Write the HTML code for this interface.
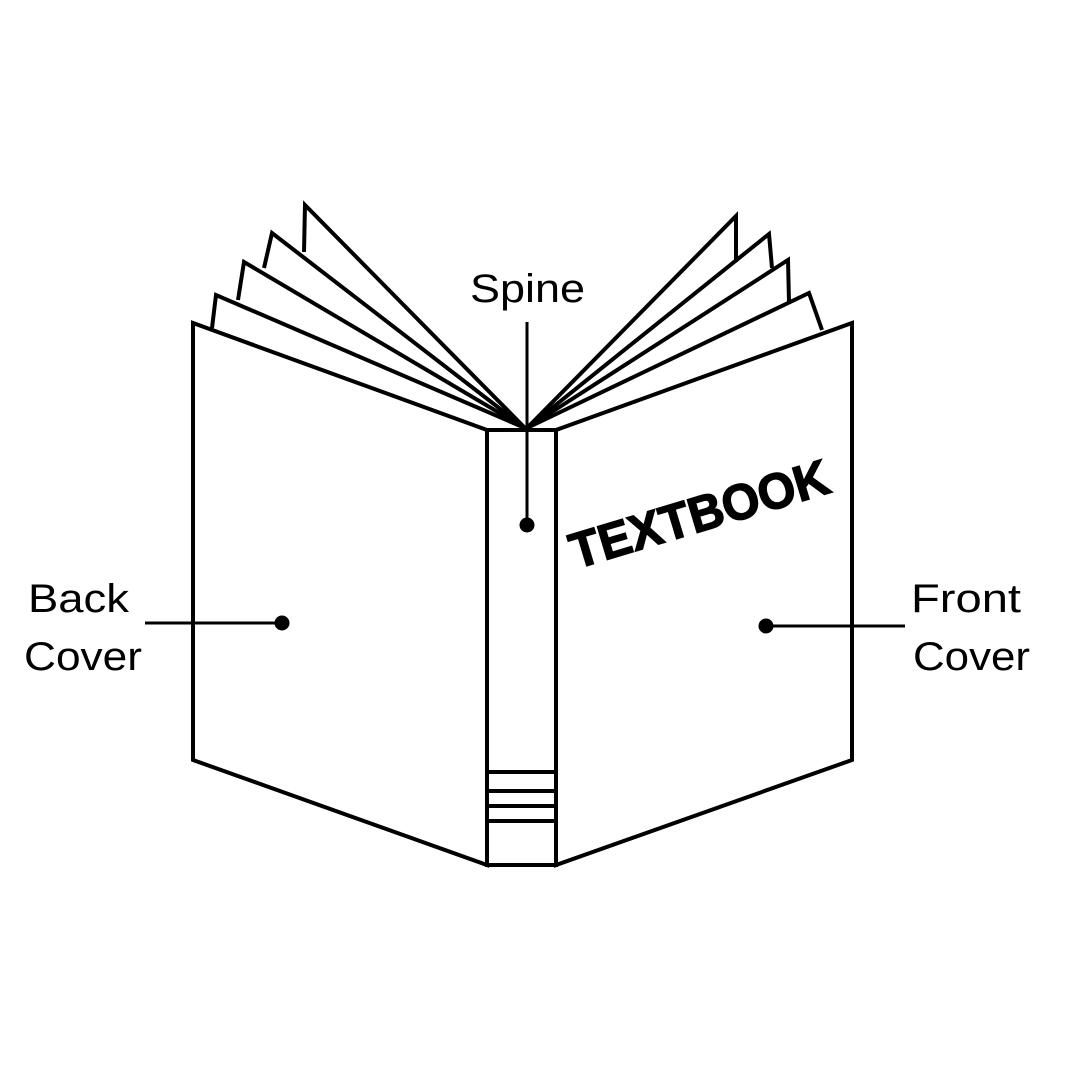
<!DOCTYPE html>
<html><head><style>html,body{margin:0;padding:0;background:#fff}</style></head>
<body>
<svg width="1080" height="1080" viewBox="0 0 1080 1080" xmlns="http://www.w3.org/2000/svg">
<rect width="1080" height="1080" fill="#fff"/>
<g fill="none" stroke="#000" stroke-width="4" stroke-linejoin="miter">
<path d="M212,328 L216,295 L525,428"/>
<path d="M238,300 L244,262 L525,428"/>
<path d="M264,268 L272,233 L525,428"/>
<path d="M304,252 L305,205 L525,428"/>
<path d="M822,330 L809,293 L527,428"/>
<path d="M789,302 L788,260 L527,428"/>
<path d="M772,268 L769,234 L527,428"/>
<path d="M736,262 L736,216 L527,428"/>
<path d="M487,430 L193,323 L193,760 L487,865 Z"/>
<path d="M556,430 L852,323 L852,760 L556,865 Z"/>
<rect x="487" y="430" width="69" height="435"/>
<line x1="487" y1="772" x2="556" y2="772"/>
<line x1="487" y1="791" x2="556" y2="791"/>
<line x1="487" y1="806" x2="556" y2="806"/>
<line x1="487" y1="821" x2="556" y2="821"/>
<line x1="527" y1="322" x2="527" y2="525" stroke-width="3"/>
<line x1="145" y1="623" x2="282" y2="623" stroke-width="3"/>
<line x1="766" y1="626" x2="905" y2="626" stroke-width="3"/>
</g>
<circle cx="527" cy="525" r="7.5" fill="#000"/>
<circle cx="282" cy="623" r="7.5" fill="#000"/>
<circle cx="766" cy="626" r="7.5" fill="#000"/>
<g font-family="Liberation Sans, sans-serif" font-size="40" fill="#000" lengthAdjust="spacingAndGlyphs">
<text x="470" y="302" textLength="115" lengthAdjust="spacingAndGlyphs">Spine</text>
<text x="28" y="612" textLength="101" lengthAdjust="spacingAndGlyphs">Back</text>
<text x="24" y="670" textLength="118" lengthAdjust="spacingAndGlyphs">Cover</text>
<text x="911" y="612" textLength="110" lengthAdjust="spacingAndGlyphs">Front</text>
<text x="913" y="670" textLength="117" lengthAdjust="spacingAndGlyphs">Cover</text>
</g>
<text x="0" y="0" font-family="Liberation Sans, sans-serif" font-weight="bold" font-size="50" stroke="#000" stroke-width="1.5" textLength="268" lengthAdjust="spacingAndGlyphs" transform="translate(576,569) rotate(-16.7)">TEXTBOOK</text>
</svg>
</body></html>
